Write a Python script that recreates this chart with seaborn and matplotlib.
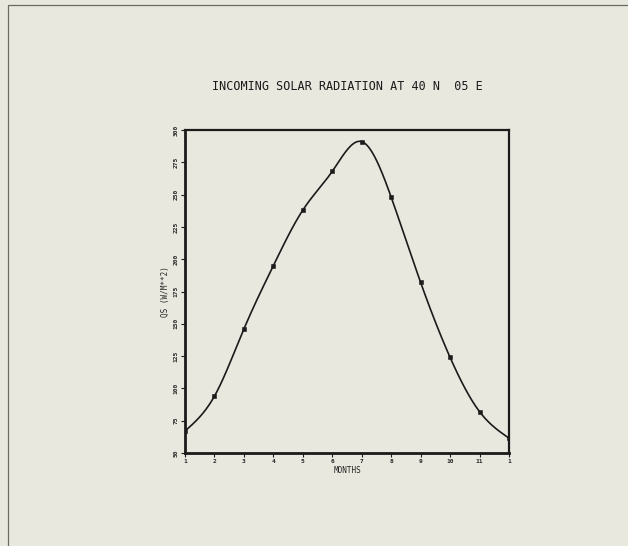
import numpy as np
import pandas as pd
import matplotlib
matplotlib.use("Agg")
import matplotlib.pyplot as plt
import seaborn as sns
from matplotlib.patches import Rectangle

# values
months = [1, 2, 3, 4, 5, 6, 7, 8, 9, 10, 11, 12]
qs = [67, 94, 146, 195, 238, 268, 291, 248, 182, 124, 82, 61.5]
x_ticklabels = ["1", "2", "3", "4", "5", "6", "7", "8", "9", "10", "11", "1"]
y_ticks = [50, 75, 100, 125, 150, 175, 200, 225, 250, 275, 300]

title = "INCOMING SOLAR RADIATION AT 40 N  05 E"
xlabel = "MONTHS"
ylabel = "QS (W/M**2)"

paper = "#e9e8df"
ink = "#1c1a1a"


def natural_spline(x, y, n=400):
    # smooth line through the points, like the plotter's spline fit
    x = np.asarray(x, float)
    y = np.asarray(y, float)
    h = np.diff(x)
    k = len(x)
    A = np.zeros((k, k))
    b = np.zeros(k)
    A[0, 0] = A[-1, -1] = 1
    for i in range(1, k - 1):
        A[i, i - 1] = h[i - 1]
        A[i, i] = 2 * (h[i - 1] + h[i])
        A[i, i + 1] = h[i]
        b[i] = 6 * ((y[i + 1] - y[i]) / h[i] - (y[i] - y[i - 1]) / h[i - 1])
    m = np.linalg.solve(A, b)
    xs = np.linspace(x[0], x[-1], n)
    idx = np.clip(np.searchsorted(x, xs) - 1, 0, k - 2)
    x0, x1 = x[idx], x[idx + 1]
    hh = x1 - x0
    t0, t1 = x1 - xs, xs - x0
    ys = (m[idx] * t0**3 + m[idx + 1] * t1**3) / (6 * hh) \
        + (y[idx] / hh - m[idx] * hh / 6) * t0 \
        + (y[idx + 1] / hh - m[idx + 1] * hh / 6) * t1
    return xs, ys


sns.set_style("white")
plt.rcParams["font.family"] = ["DejaVu Sans Mono", "DejaVu Sans"]

fig = plt.figure(figsize=(6.28, 5.46), dpi=100)
fig.patch.set_facecolor(paper)

# scanned page frame
fig.patches.append(Rectangle((8 / 628, -0.01), 1.0, 1 - 5 / 546 + 0.01,
                             transform=fig.transFigure, fill=False,
                             edgecolor="#6a6a66", linewidth=0.9))

ax = fig.add_axes([185 / 628, 1 - 453 / 546, 324 / 628, 323 / 546])
ax.set_facecolor(paper)

df = pd.DataFrame({"month": months, "qs": qs})
xs, ys = natural_spline(months, qs)
curve = pd.DataFrame({"month": xs, "qs": ys})

sns.lineplot(data=curve, x="month", y="qs", ax=ax, color=ink, linewidth=1.2)
sns.scatterplot(data=df, x="month", y="qs", ax=ax, marker="s", s=8,
                color=ink, edgecolor=ink, linewidth=0.4, zorder=3)

ax.set_xlim(1, 12)
ax.set_ylim(50, 300)
ax.set_xticks(months)
ax.set_xticklabels(x_ticklabels, fontsize=4.5, fontweight="bold")
ax.set_yticks(y_ticks)
ax.set_yticklabels([str(v) for v in y_ticks], fontsize=4.5, rotation=90,
                   va="center", fontweight="bold")
ax.tick_params(axis="both", direction="out", length=3, width=0.8,
               color=ink, pad=1.5, left=True, bottom=True)

for side in ["left", "bottom"]:
    ax.spines[side].set_linewidth(2.0)
    ax.spines[side].set_color(ink)
for side in ["right", "top"]:
    ax.spines[side].set_linewidth(1.6)
    ax.spines[side].set_color(ink)

ax.set_xlabel(xlabel, fontsize=5.5, labelpad=1)
ax.set_ylabel(ylabel, fontsize=5.5, labelpad=3)

fig.text(347 / 628, 1 - 86 / 546, title, ha="center", va="center",
         fontsize=8.5, color=ink)

fig.savefig("out.png", dpi=100, facecolor=paper)
